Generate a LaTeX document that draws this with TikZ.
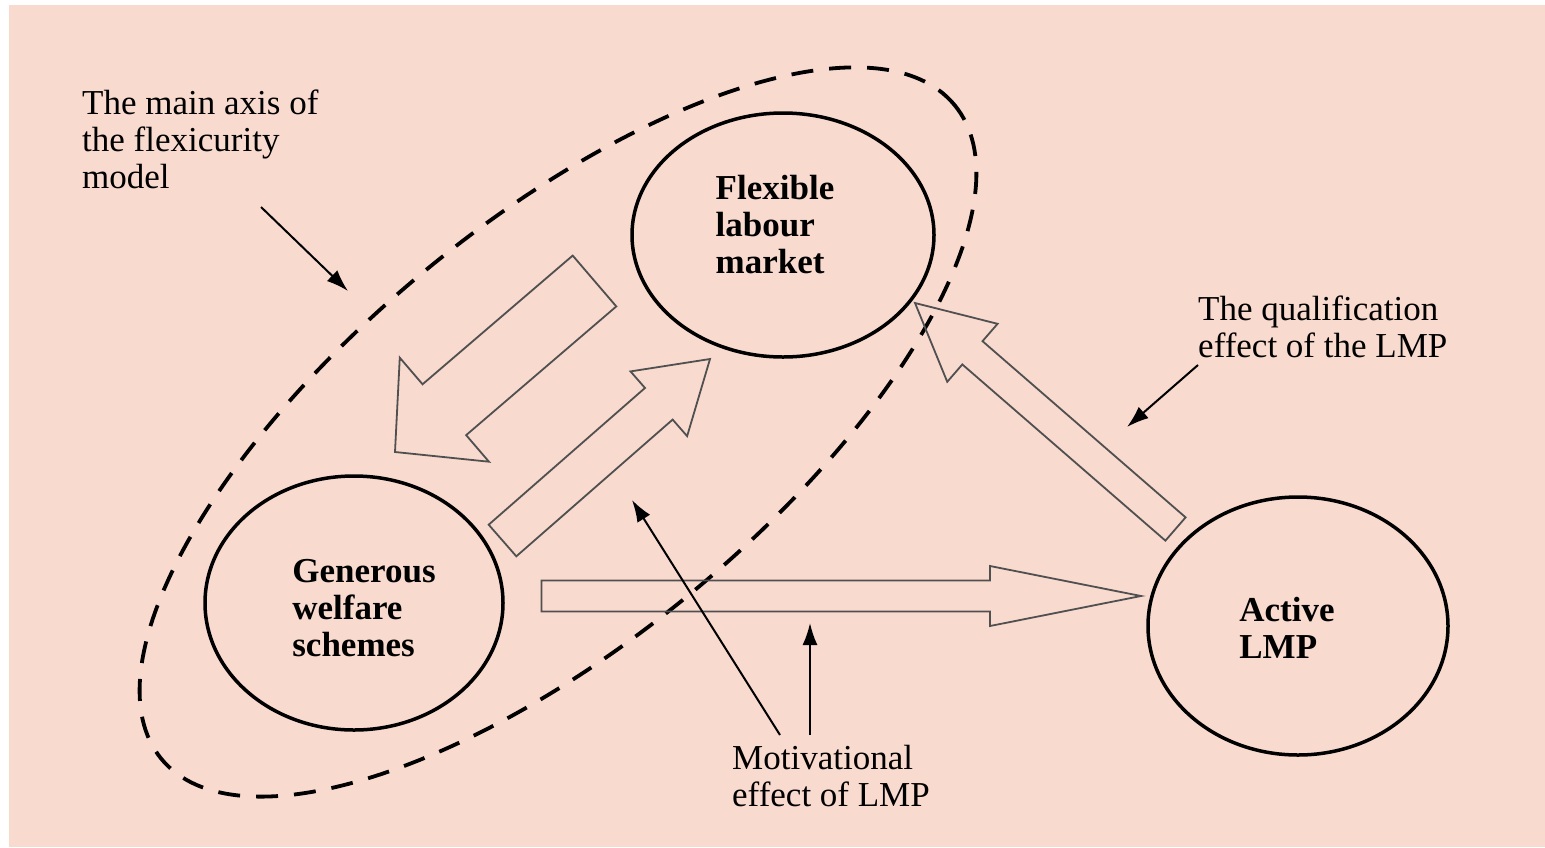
\documentclass[tikz,border=0pt]{standalone}
\usepackage{fontspec}
\setmainfont{Liberation Serif}
\usetikzlibrary{shapes.geometric, arrows.meta, calc}
\definecolor{bgpink}{RGB}{249,218,207}
\definecolor{arrowgrey}{RGB}{80,80,80}

\tikzset{
  field/.style={ellipse, draw, line width=3.5pt, inner sep=0pt},
  fieldtext/.style={align=left, inner sep=0pt,
    font=\fontsize{35}{37}\selectfont\bfseries},
  axisring/.style={ellipse, draw, line width=3.8pt, dash pattern=on 22pt off 16pt},
  blockarr/.style={draw=arrowgrey, line width=1.8pt, line join=miter},
  pointer/.style={line width=2pt, -{Latex[length=22pt,width=15pt]}},
  note/.style={align=left, anchor=west, inner sep=0pt,
    font=\fontsize{35}{37}\selectfont}
}

% hollow block arrow: tail, tip, half shaft width, half head width, head length
\newcommand{\blockarrow}[5]{%
  \coordinate (neck) at ($(#2)!#5!(#1)$);
  \draw[blockarr] ($(#1)!#3!90:(#2)$) -- ($(neck)!#3!90:(#2)$)
    -- ($(neck)!#4!90:(#2)$) -- (#2) -- ($(neck)!#4!-90:(#2)$)
    -- ($(neck)!#3!-90:(#2)$) -- ($(#1)!#3!-90:(#2)$) -- cycle;
}

\begin{document}
\begin{tikzpicture}[x=1pt, y=-1pt]
  \useasboundingbox (0,0) rectangle (1545,847);
  \fill[bgpink] (9,5) rectangle (1545,847);

  % --- main axis ---
  \node[axisring, minimum width=1028pt, minimum height=418pt, rotate=39.5] (mainaxis) at (558,432) {};

  % --- the three fields ---
  \node[field, minimum width=302pt, minimum height=244pt,
    label={[fieldtext, xshift=-8pt, yshift=10pt]center:{Flexible\\labour\\market}}] (flex) at (783,235) {};
  \node[field, minimum width=298pt, minimum height=254pt,
    label={[fieldtext, xshift=10pt, yshift=-5pt]center:{Generous\\welfare\\schemes}}] (gen) at (354,603) {};
  \node[field, minimum width=300pt, minimum height=258pt,
    label={[fieldtext, xshift=-11pt, yshift=-2pt]center:{Active\\LMP}}] (lmp) at (1298,626) {};

  % --- block arrows ---
  \coordinate (fg-tail) at (594.5,281);   \coordinate (fg-tip) at (395,452);
  \coordinate (gf-tail) at (502.5,540.5); \coordinate (gf-tip) at (710,359);
  \coordinate (lf-tail) at (1175.5,529);  \coordinate (lf-tip) at (915,303);
  \coordinate (gl-tail) at (541.5,596);   \coordinate (gl-tip) at (1141,596);
  \blockarrow{fg-tail}{fg-tip}{33.5pt}{68.5pt}{65pt}
  \blockarrow{gf-tail}{gf-tip}{21pt}{43pt}{68pt}
  \blockarrow{lf-tail}{lf-tip}{15.4pt}{38.4pt}{76pt}
  \blockarrow{gl-tail}{gl-tip}{15.5pt}{30pt}{151pt}

  % --- notes ---
  \node[note] (axisnote) at (82,139) {The main axis of\\the flexicurity\\model};
  \node[note] (qualnote) at (1198,327) {The qualification\\effect of the LMP};
  \node[note] (motivnote) at (732,776) {Motivational\\effect of LMP};

  % --- pointers ---
  \coordinate (axis-from) at (261,207);  \coordinate (axis-to) at (348,291);
  \coordinate (qual-from) at (1198,365); \coordinate (qual-to) at (1127,427);
  \coordinate (motA-from) at (780,735);  \coordinate (motA-to) at (632,500);
  \coordinate (motB-from) at (810,735);  \coordinate (motB-to) at (810,623);
  \draw[pointer] (axis-from) -- (axis-to);
  \draw[pointer] (qual-from) -- (qual-to);
  \draw[pointer] (motA-from) -- (motA-to);
  \draw[pointer] (motB-from) -- (motB-to);
\end{tikzpicture}
\end{document}
